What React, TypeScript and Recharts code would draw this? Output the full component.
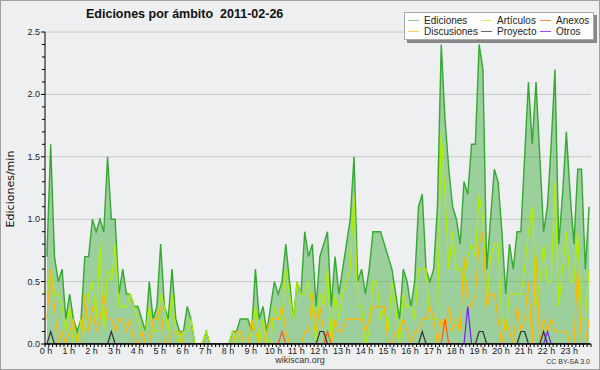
import {
  ComposedChart,
  Area,
  Line,
  XAxis,
  YAxis,
  CartesianGrid,
  ReferenceLine,
} from 'recharts'

// one value per 10 minutes, edits per minute; each row of 12 covers two hours
const ediciones = [
  0.7, 1.6, 0.7, 0.5, 0.6, 0.2, 0.4, 0.2, 0.1, 0.2, 0.7, 0.7,
  1.0, 0.9, 1.0, 0.9, 1.5, 1.0, 1.0, 0.4, 0.6, 0.4, 0.4, 0.3,
  0.3, 0.2, 0.1, 0.5, 0.2, 0.3, 0.8, 0.3, 0.2, 0.6, 0.2, 0.1,
  0.1, 0.3, 0.2, 0, 0, 0, 0.1, 0, 0, 0, 0, 0,
  0, 0.1, 0.1, 0.2, 0.2, 0.2, 0.1, 0.6, 0.2, 0.3, 0.1, 0.3,
  0.5, 0.4, 0.5, 0.8, 0.5, 0.2, 0.5, 0.4, 0.9, 0.7, 0.8, 0.3,
  0.7, 0.8, 0.9, 0.3, 0.7, 0.4, 0.6, 0.8, 1.0, 1.5, 0.5, 0.6,
  0.4, 0.6, 0.9, 0.9, 0.9, 0.8, 0.7, 0.6, 0.4, 0.2, 0.6, 0.5,
  0.3, 0.5, 1.1, 1.2, 0.6, 0.5, 0.6, 1.1, 2.4, 1.8, 1.4, 1.1,
  1.0, 0.8, 1.3, 1.2, 1.6, 1.6, 2.4, 2.2, 0.6, 1.0, 1.4, 1.3,
  0.9, 0.4, 0.8, 0.6, 0.9, 0.9, 1.5, 2.1, 1.6, 2.1, 1.5, 0.9,
  1.1, 1.6, 2.2, 0.8, 1.2, 1.7, 1.2, 0.8, 1.4, 1.4, 0.6, 1.1,
]

const articulos = [
  0.4, 0.6, 0.4, 0.4, 0.3, 0.1, 0.3, 0, 0, 0.2, 0.1, 0.4,
  0.5, 0.2, 0.8, 0.1, 0.6, 0.5, 0.8, 0.3, 0.3, 0.3, 0.4, 0.3,
  0.2, 0.1, 0.1, 0.3, 0.1, 0.1, 0.4, 0.3, 0.1, 0.4, 0.1, 0,
  0.1, 0.1, 0.2, 0, 0, 0, 0.1, 0, 0, 0, 0, 0,
  0, 0.1, 0, 0.1, 0, 0, 0.1, 0.3, 0, 0.2, 0, 0,
  0.3, 0.2, 0.2, 0.6, 0.4, 0.2, 0.5, 0.4, 0.4, 0.5, 0.3, 0,
  0.4, 0.3, 0.6, 0, 0.4, 0.2, 0.4, 0.5, 0.6, 1.2, 0.3, 0.3,
  0, 0.1, 0.5, 0.5, 0.2, 0.3, 0.1, 0.5, 0.3, 0, 0.4, 0.3,
  0.3, 0.2, 0.6, 0.6, 0.6, 0.2, 0.2, 0.2, 1.7, 1.2, 0.6, 0.9,
  0.6, 0.6, 0.5, 0.7, 0.8, 0.7, 1.2, 1.0, 0.3, 0.7, 0.8, 0.8,
  0.2, 0.1, 0.4, 0.4, 0.4, 0.4, 0.6, 0.9, 1.1, 0.3, 0.5, 0.8,
  0.5, 0.5, 1.3, 0.3, 0.6, 0.9, 0.5, 0.5, 0.9, 0.2, 0.2, 0.6,
]

const discusiones = [
  0.2, 0.6, 0.3, 0, 0.1, 0, 0.1, 0.2, 0, 0, 0.4, 0.1,
  0.3, 0.1, 0.2, 0.4, 0.2, 0.2, 0.1, 0.2, 0.2, 0.1, 0.2, 0,
  0, 0.1, 0, 0, 0.2, 0.2, 0.3, 0, 0, 0.1, 0.1, 0.1,
  0, 0, 0, 0, 0, 0, 0, 0, 0, 0, 0, 0,
  0, 0, 0.1, 0.1, 0, 0, 0.2, 0.1, 0, 0, 0.1, 0.2,
  0.2, 0.2, 0.3, 0.1, 0, 0, 0, 0, 0.1, 0.1, 0.4, 0.1,
  0.3, 0.1, 0, 0, 0.2, 0.1, 0.1, 0.2, 0.2, 0.2, 0.2, 0.2,
  0.1, 0.2, 0.3, 0.3, 0.3, 0.3, 0, 0, 0.1, 0.1, 0.2, 0.1,
  0, 0.1, 0.1, 0.2, 0.2, 0.3, 0.2, 0, 0.2, 0.1, 0.3, 0.1,
  0.2, 0.1, 0.7, 0.3, 0.3, 0.4, 0.8, 0.9, 0.3, 0.4, 0.4, 0.2,
  0, 0.2, 0.1, 0, 0.3, 0.1, 0.2, 0.5, 0, 0.7, 0, 0.2,
  0.1, 0.2, 0.1, 0.1, 0.1, 0.1, 0, 0, 0.6, 0, 0, 0.2,
]

const proyecto = [
  0, 0.1, 0, 0, 0, 0, 0, 0, 0, 0, 0, 0,
  0, 0, 0, 0, 0, 0.1, 0, 0, 0, 0, 0, 0,
  0, 0, 0, 0, 0, 0, 0, 0, 0, 0, 0, 0,
  0, 0, 0, 0, 0, 0, 0, 0, 0, 0, 0, 0,
  0, 0, 0, 0, 0, 0, 0, 0, 0, 0, 0, 0,
  0, 0, 0, 0, 0, 0, 0, 0, 0, 0, 0, 0,
  0.1, 0.1, 0, 0, 0, 0, 0, 0, 0, 0, 0, 0,
  0, 0, 0, 0, 0, 0, 0, 0, 0, 0, 0, 0,
  0, 0, 0, 0.1, 0, 0, 0, 0, 0, 0, 0, 0,
  0, 0, 0, 0, 0, 0, 0.1, 0.1, 0, 0, 0, 0,
  0, 0, 0, 0, 0, 0.1, 0.1, 0, 0, 0, 0, 0.1,
  0, 0, 0, 0, 0, 0, 0, 0, 0, 0, 0, 0,
]

const anexos = [
  0, 0, 0, 0, 0, 0, 0, 0, 0, 0, 0, 0,
  0, 0, 0, 0, 0, 0, 0, 0, 0, 0, 0, 0,
  0, 0, 0, 0, 0, 0, 0, 0, 0, 0, 0, 0,
  0, 0, 0, 0, 0, 0, 0, 0, 0, 0, 0, 0,
  0, 0, 0, 0, 0, 0, 0, 0, 0, 0, 0, 0,
  0, 0, 0.1, 0, 0, 0, 0, 0, 0, 0, 0, 0,
  0, 0, 0.1, 0, 0, 0, 0, 0, 0, 0, 0, 0,
  0, 0, 0, 0, 0, 0, 0, 0, 0, 0, 0, 0,
  0, 0, 0, 0, 0, 0, 0, 0, 0, 0.2, 0, 0,
  0, 0, 0, 0, 0, 0, 0, 0, 0, 0, 0, 0,
  0, 0, 0, 0, 0, 0, 0, 0, 0, 0, 0, 0,
  0, 0, 0, 0, 0, 0, 0, 0, 0, 0, 0, 0,
]

const otros = [
  0, 0, 0, 0, 0, 0, 0, 0, 0, 0, 0, 0,
  0, 0, 0, 0, 0, 0, 0, 0, 0, 0, 0, 0,
  0, 0, 0, 0, 0, 0, 0, 0, 0, 0, 0, 0,
  0, 0, 0, 0, 0, 0, 0, 0, 0, 0, 0, 0,
  0, 0, 0, 0, 0, 0, 0, 0, 0, 0, 0, 0,
  0, 0, 0, 0, 0, 0, 0, 0, 0, 0, 0, 0,
  0, 0, 0, 0, 0, 0, 0, 0, 0, 0, 0, 0,
  0, 0, 0, 0, 0, 0, 0, 0, 0, 0, 0, 0,
  0, 0, 0, 0, 0, 0, 0, 0, 0, 0, 0, 0,
  0, 0, 0, 0.3, 0, 0, 0, 0, 0, 0, 0, 0,
  0, 0, 0, 0, 0, 0, 0, 0, 0, 0, 0, 0,
  0.1, 0, 0, 0, 0, 0, 0, 0, 0, 0, 0, 0,
]

// 10-minute slots on the x axis, 0.1 steps on the y axis
const slotTicks = Array.from({ length: 145 }, (_, i) => i)
const rateTicks = Array.from({ length: 26 }, (_, i) => i / 10)
const gridValues = [0.5, 1, 1.5, 2, 2.5]

const legendItems = [
  { name: 'Ediciones', color: '#8fcf8c', col: 0, row: 0 },
  { name: 'Artículos', color: '#d4f55a', col: 1, row: 0 },
  { name: 'Anexos', color: '#f58a55', col: 2, row: 0 },
  { name: 'Discusiones', color: '#f7d35a', col: 0, row: 1 },
  { name: 'Proyecto', color: '#666666', col: 1, row: 1 },
  { name: 'Otros', color: '#9a4cf2', col: 2, row: 1 },
]
const legendCols = [3, 76, 135]

const rows = ediciones.map((v, i) => ({
  x: i + 0.5,
  ediciones: v,
  articulos: articulos[i],
  discusiones: discusiones[i],
  proyecto: proyecto[i],
  anexos: anexos[i],
  otros: otros[i],
}))

const FONT = '"Liberation Sans", Arial, sans-serif'

function SlotTick({ x, y, payload }: any) {
  const v = payload.value
  const major = v % 6 === 0 && v < 144
  return (
    <g>
      <line x1={x} x2={x} y1={y} y2={y + 3} stroke="#000" />
      {major && (
        <text x={x + 1} y={y + 10} textAnchor="middle" fontSize={9} fontFamily={FONT} fill="#222">
          {v / 6} h
        </text>
      )}
    </g>
  )
}

function RateTick({ x, y, payload }: any) {
  const v = Math.round(payload.value * 10)
  const major = v % 5 === 0
  return (
    <g>
      <line x1={x - (major ? 4 : 3)} x2={x} y1={y} y2={y} stroke="#000" />
      {major && (
        <text x={x - 5} y={y + 3} textAnchor="end" fontSize={9} fontFamily={FONT} fill="#222">
          {(v / 10).toFixed(1)}
        </text>
      )}
    </g>
  )
}

export default function App() {
  return (
    <div
      style={{
        position: 'absolute',
        left: 0,
        top: 0,
        width: 600,
        height: 370,
        background: '#eeeff0',
        fontFamily: FONT,
        overflow: 'hidden',
      }}
    >
      <ComposedChart
        width={600}
        height={370}
        data={rows}
        margin={{ top: 32, right: 9, left: 0, bottom: 0 }}
      >
        <CartesianGrid
          vertical={false}
          horizontalValues={gridValues}
          stroke="#c8c8c8"
          strokeDasharray=""
        />
        <XAxis
          dataKey="x"
          type="number"
          domain={[0, 144]}
          ticks={slotTicks}
          interval={0}
          height={26}
          tickSize={0}
          tickMargin={0}
          tickLine={false}
          tick={<SlotTick />}
          axisLine={{ stroke: '#000' }}
          allowDataOverflow
        />
        <YAxis
          type="number"
          domain={[0, 2.5]}
          ticks={rateTicks}
          interval={0}
          width={45}
          tickSize={0}
          tickMargin={0}
          tickLine={false}
          tick={<RateTick />}
          axisLine={{ stroke: '#000' }}
          allowDataOverflow
        />
        <Area
          type="linear"
          dataKey="ediciones"
          stroke="#36a833"
          strokeWidth={1.4}
          fill="#36a833"
          fillOpacity={0.45}
          dot={false}
          activeDot={false}
          isAnimationActive={false}
        />
        <Line type="linear" dataKey="articulos" stroke="#b2ee00" strokeWidth={1.2} dot={false} activeDot={false} isAnimationActive={false} />
        <Line type="linear" dataKey="discusiones" stroke="#ffb800" strokeWidth={1.2} dot={false} activeDot={false} isAnimationActive={false} />
        <Line type="linear" dataKey="anexos" stroke="#ff5a1e" strokeWidth={1.2} dot={false} activeDot={false} isAnimationActive={false} />
        <Line type="linear" dataKey="otros" stroke="#7a1eff" strokeWidth={1.2} dot={false} activeDot={false} isAnimationActive={false} />
        <Line type="linear" dataKey="proyecto" stroke="#333333" strokeWidth={1.2} dot={false} activeDot={false} isAnimationActive={false} />
        <ReferenceLine y={0} stroke="#000" />
      </ComposedChart>

      <div
        style={{
          position: 'absolute',
          left: 86,
          top: 7,
          fontSize: 12.5,
          fontWeight: 'bold',
          whiteSpace: 'pre',
          color: '#111',
        }}
      >
        {'Ediciones por ámbito  2011-02-26'}
      </div>

      <div
        style={{
          position: 'absolute',
          left: 10,
          top: 189,
          transform: 'translate(-50%, -50%) rotate(-90deg)',
          fontSize: 11,
          fontFamily: '"DejaVu Sans", sans-serif',
          whiteSpace: 'nowrap',
          color: '#111',
        }}
      >
        Ediciones/min
      </div>

      <div
        style={{
          position: 'absolute',
          left: 404,
          top: 12,
          width: 188,
          height: 26,
          background: '#fff',
          border: '1px solid #aaa',
          boxShadow: '3px 3px 0 #888',
        }}
      >
        {legendItems.map((it) => (
          <div
            key={it.name}
            style={{
              position: 'absolute',
              left: legendCols[it.col],
              top: it.row === 0 ? 1 : 12,
              height: 12,
              display: 'flex',
              alignItems: 'center',
              fontSize: 10,
              color: '#222',
              whiteSpace: 'nowrap',
            }}
          >
            <span style={{ display: 'inline-block', width: 11, height: 1, background: it.color, marginRight: 5 }} />
            {it.name}
          </div>
        ))}
      </div>

      <div style={{ position: 'absolute', left: 0, width: 600, top: 355, textAlign: 'center', fontSize: 9, color: '#333' }}>
        wikiscan.org
      </div>
      <div style={{ position: 'absolute', right: 10, top: 358, fontSize: 7, color: '#333' }}>CC BY-SA 3.0</div>

      <div
        style={{
          position: 'absolute',
          left: 0,
          top: 0,
          width: 600,
          height: 370,
          boxSizing: 'border-box',
          border: '1px solid #a0a0a0',
          pointerEvents: 'none',
        }}
      />
    </div>
  )
}
